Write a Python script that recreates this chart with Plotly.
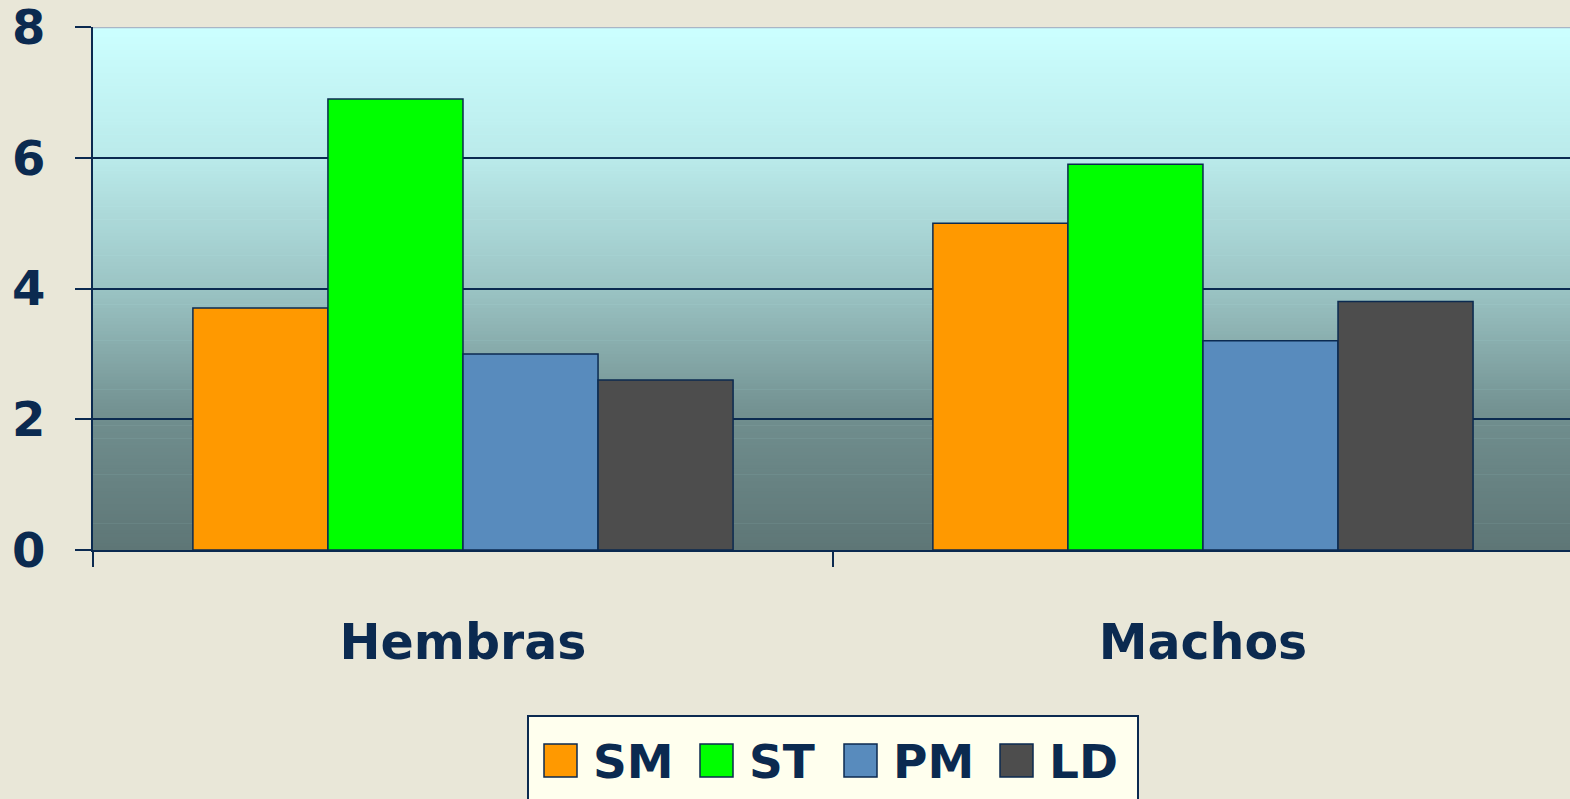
import plotly.graph_objects as go

categories = ["Hembras", "Machos"]
series_names = ["SM", "ST", "PM", "LD"]
sm_values = [3.7, 5.0]
st_values = [6.9, 5.9]
pm_values = [3.0, 3.2]
ld_values = [2.6, 3.8]
y_tick_values = [0, 2, 4, 6, 8]

series_values = [sm_values, st_values, pm_values, ld_values]
series_colors = ["#FF9900", "#00FF00", "#588BBD", "#4D4D4D"]

NAVY = "#0B2A50"
FONT = "DejaVu Sans"

W, H = 1570, 799
ML, MR, MT, MB = 93, 0, 27, 249
PW, PH = W - ML - MR, H - MT - MB

def px_to_paper_x(px):
    return (px - ML) / PW

def px_to_paper_y(py):
    return (H - MB - py) / PH

fig = go.Figure()
for name, vals, col in zip(series_names, series_values, series_colors):
    fig.add_trace(go.Bar(
        name=name, x=categories, y=vals,
        marker=dict(color=col, line=dict(color=NAVY, width=1.5)),
        showlegend=False,
    ))

# vertical gradient background (light cyan top -> dark slate bottom)
stops = [(0.0, (94, 118, 118)), (0.25, (112, 142, 142)), (0.5, (155, 196, 196)),
         (0.75, (186, 234, 234)), (1.0, (204, 255, 255))]

def grad(t):
    for (t0, c0), (t1, c1) in zip(stops[:-1], stops[1:]):
        if t0 <= t <= t1:
            f = (t - t0) / (t1 - t0)
            return "rgb(%d,%d,%d)" % tuple(round(a + (b - a) * f) for a, b in zip(c0, c1))
    return "rgb(%d,%d,%d)" % stops[-1][1]

shapes = []
n = 160
ymax = y_tick_values[-1]
for i in range(n):
    y0 = ymax * i / n
    y1 = ymax * (i + 1) / n + 0.01
    shapes.append(dict(type="rect", xref="paper", yref="y", x0=0, x1=1, y0=y0, y1=y1,
                       fillcolor=grad((i + 0.5) / n), line=dict(width=0), layer="below"))
shapes.append(dict(type="line", xref="paper", yref="y", x0=0, x1=1, y0=ymax, y1=ymax,
                   line=dict(color="#A9B6C6", width=2.5), layer="above"))

# legend box (Excel style, large square keys)
box_left, box_right, box_top, box_bottom = 528, 1138, 716, 820
shapes.append(dict(type="rect", xref="paper", yref="paper",
                   x0=px_to_paper_x(box_left), x1=px_to_paper_x(box_right),
                   y0=px_to_paper_y(box_bottom), y1=px_to_paper_y(box_top),
                   fillcolor="#FFFFEE", line=dict(color=NAVY, width=2), layer="above"))
key_left = [544, 700, 844, 1000]
key_size = 33
key_top = 744
annotations = []
for name, col, kx in zip(series_names, series_colors, key_left):
    shapes.append(dict(type="rect", xref="paper", yref="paper",
                       x0=px_to_paper_x(kx), x1=px_to_paper_x(kx + key_size),
                       y0=px_to_paper_y(key_top + key_size), y1=px_to_paper_y(key_top),
                       fillcolor=col, line=dict(color=NAVY, width=1.5), layer="above"))
    annotations.append(dict(
        xref="paper", yref="paper", x=px_to_paper_x(kx + key_size + 14),
        y=px_to_paper_y(key_top + key_size / 2 + 1), xanchor="left", yanchor="middle",
        text=name, showarrow=False,
        font=dict(family=FONT, size=47, color=NAVY, weight="bold"),
    ))

fig.update_layout(
    width=W, height=H,
    margin=dict(l=ML, r=MR, t=MT, b=MB),
    paper_bgcolor="#E9E7D8",
    plot_bgcolor="#CCFFFF",
    barmode="group", bargap=0.27, bargroupgap=0,
    shapes=shapes,
    annotations=annotations,
    font=dict(family=FONT, color=NAVY, weight="bold"),
    showlegend=False,
    xaxis=dict(
        range=[-0.5, 1.496], showgrid=False, showline=True, linecolor=NAVY, linewidth=2,
        ticks="outside", tickson="boundaries", ticklen=15, tickwidth=2, tickcolor=NAVY,
        tickfont=dict(family=FONT, size=49, color=NAVY, weight="bold"),
        ticklabelstandoff=48, ticklabeloverflow="allow",
    ),
    yaxis=dict(
        range=[0, ymax], tickvals=y_tick_values, showgrid=True, gridcolor=NAVY, gridwidth=2,
        zeroline=False, showline=True, linecolor=NAVY, linewidth=2,
        ticks="outside", ticklen=16, tickwidth=2, tickcolor=NAVY,
        tickfont=dict(family=FONT, size=48, color=NAVY, weight="bold"),
        ticklabelstandoff=20, ticklabeloverflow="allow",
    ),
)

fig.write_html(
    "out.html",
    config={"displayModeBar": False},
    post_script="document.body.style.margin='0';document.body.style.overflow='hidden';"
                "document.body.style.background='#E9E7D8';",
)
